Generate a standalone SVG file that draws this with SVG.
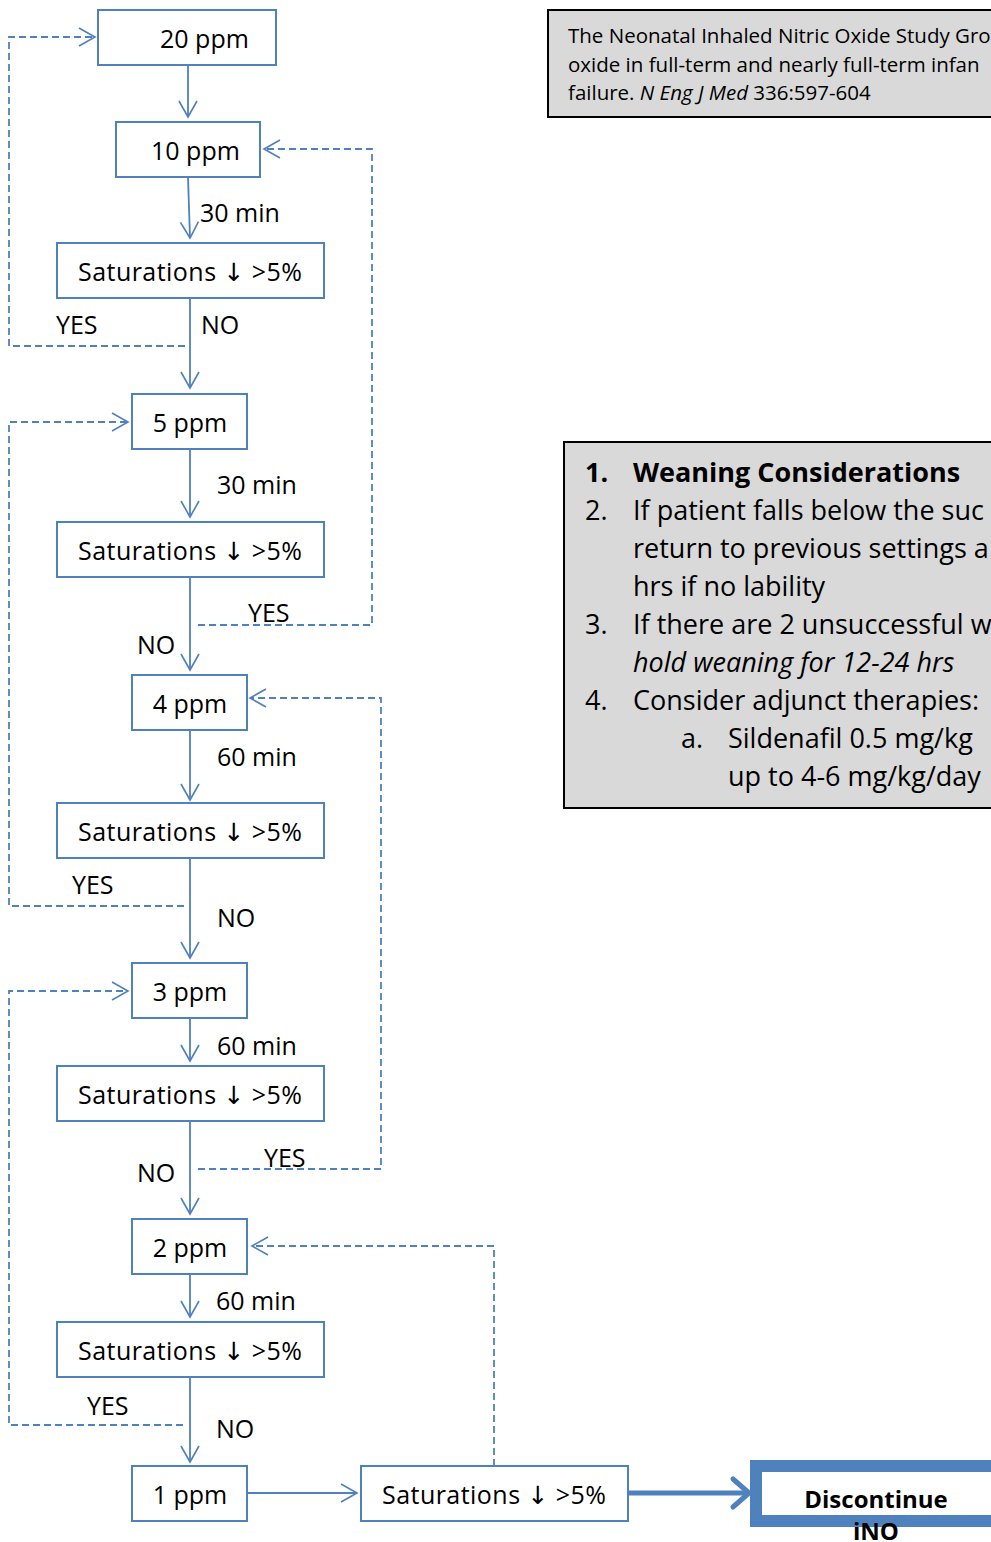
<svg xmlns="http://www.w3.org/2000/svg" width="991" height="1542" viewBox="0 0 991 1542">
<style>
  .box { fill: #FFFFFF; stroke: #4F81BD; stroke-width: 2; }
  .note { fill: #D9D9D9; stroke: #000000; stroke-width: 2; }
  .t { font-family: "Open Sans", "DejaVu Sans", sans-serif; font-size: 25px; fill: #000000; }
  .d { font-family: "Open Sans", "DejaVu Sans", sans-serif; font-size: 24px; fill: #000000; font-weight: bold; }
  .s { font-family: "Open Sans", "DejaVu Sans", sans-serif; font-size: 20.5px; fill: #000000; }
  .w { font-family: "Open Sans", "DejaVu Sans", sans-serif; font-size: 27px; fill: #000000; }
  .b { font-weight: bold; }
  .i { font-style: italic; }
  .solid { fill: none; stroke: #4F81BD; stroke-width: 1.8; }
  .dash { fill: none; stroke: #4F81BD; stroke-width: 1.8; stroke-dasharray: 7 4; }
</style>
<defs>
  <marker id="ah" viewBox="0 0 20 20" refX="18" refY="10" markerWidth="20" markerHeight="20" markerUnits="userSpaceOnUse" orient="auto">
    <path d="M2,1 L18,10 L2,19" fill="none" stroke="#4F81BD" stroke-width="1.6"/>
  </marker>
</defs>

<g id="connectors">
  <path class="solid" d="M188,65 V117" marker-end="url(#ah)"/>
  <path class="solid" d="M188,177 L190,238" marker-end="url(#ah)"/>
  <path class="solid" d="M190,298 V388" marker-end="url(#ah)"/>
  <path class="solid" d="M190,449 V517" marker-end="url(#ah)"/>
  <path class="solid" d="M190,577 V670" marker-end="url(#ah)"/>
  <path class="solid" d="M190,730 V800" marker-end="url(#ah)"/>
  <path class="solid" d="M190,858 V958" marker-end="url(#ah)"/>
  <path class="solid" d="M190,1018 V1061" marker-end="url(#ah)"/>
  <path class="solid" d="M190,1121 V1214" marker-end="url(#ah)"/>
  <path class="solid" d="M190,1274 V1317" marker-end="url(#ah)"/>
  <path class="solid" d="M190,1377 V1462" marker-end="url(#ah)"/>
  <path class="solid" d="M247,1493 H357" stroke-width="2.4" marker-end="url(#ah)"/>
  <path d="M628,1493 H748" fill="none" stroke="#4F81BD" stroke-width="5"/>
  <path d="M733,1479 L749,1493 L733,1507" fill="none" stroke="#4F81BD" stroke-width="5" stroke-linecap="round" stroke-linejoin="round"/>

  <path class="dash" d="M185,346 H9 V37 H95" marker-end="url(#ah)"/>
  <path class="dash" d="M198,625 H372 V149 H264" marker-end="url(#ah)"/>
  <path class="dash" d="M184,906 H9 V422 H128" marker-end="url(#ah)"/>
  <path class="dash" d="M198,1169 H381 V698 H250" marker-end="url(#ah)"/>
  <path class="dash" d="M183,1425 H9 V991 H128" marker-end="url(#ah)"/>
  <path class="dash" d="M494,1466 V1246 H252" marker-end="url(#ah)"/>

  <text class="t" x="200" y="222">30 min</text>
  <text class="t" x="56" y="334">YES</text>
  <text class="t" x="201" y="334">NO</text>
  <text class="t" x="217" y="494">30 min</text>
  <text class="t" x="248" y="622">YES</text>
  <text class="t" x="137" y="654">NO</text>
  <text class="t" x="217" y="766">60 min</text>
  <text class="t" x="72" y="894">YES</text>
  <text class="t" x="217" y="927">NO</text>
  <text class="t" x="217" y="1055">60 min</text>
  <text class="t" x="264" y="1167">YES</text>
  <text class="t" x="137" y="1182">NO</text>
  <text class="t" x="216" y="1310">60 min</text>
  <text class="t" x="87" y="1415">YES</text>
  <text class="t" x="216" y="1438">NO</text>
</g>

<g id="n20">
  <rect class="box" x="98" y="10" width="178" height="55"/>
  <text class="t" x="160" y="48">20 ppm</text>
</g>
<g id="n10">
  <rect class="box" x="116" y="122" width="144" height="55"/>
  <text class="t" x="151" y="160">10 ppm</text>
</g>
<g id="sat1">
  <rect class="box" x="57" y="243" width="267" height="55"/>
  <text class="t" x="78" y="281" textLength="224" lengthAdjust="spacing">Saturations ↓ &gt;5%</text>
</g>
<g id="n5">
  <rect class="box" x="132" y="394" width="115" height="55"/>
  <text class="t" x="190" y="432" text-anchor="middle">5 ppm</text>
</g>
<g id="sat2">
  <rect class="box" x="57" y="522" width="267" height="55"/>
  <text class="t" x="78" y="560" textLength="224" lengthAdjust="spacing">Saturations ↓ &gt;5%</text>
</g>
<g id="n4">
  <rect class="box" x="132" y="675" width="115" height="55"/>
  <text class="t" x="190" y="713" text-anchor="middle">4 ppm</text>
</g>
<g id="sat3">
  <rect class="box" x="57" y="803" width="267" height="55"/>
  <text class="t" x="78" y="841" textLength="224" lengthAdjust="spacing">Saturations ↓ &gt;5%</text>
</g>
<g id="n3">
  <rect class="box" x="132" y="963" width="115" height="55"/>
  <text class="t" x="190" y="1001" text-anchor="middle">3 ppm</text>
</g>
<g id="sat4">
  <rect class="box" x="57" y="1066" width="267" height="55"/>
  <text class="t" x="78" y="1104" textLength="224" lengthAdjust="spacing">Saturations ↓ &gt;5%</text>
</g>
<g id="n2">
  <rect class="box" x="132" y="1219" width="115" height="55"/>
  <text class="t" x="190" y="1257" text-anchor="middle">2 ppm</text>
</g>
<g id="sat5">
  <rect class="box" x="57" y="1322" width="267" height="55"/>
  <text class="t" x="78" y="1360" textLength="224" lengthAdjust="spacing">Saturations ↓ &gt;5%</text>
</g>
<g id="n1">
  <rect class="box" x="132" y="1466" width="115" height="55"/>
  <text class="t" x="190" y="1504" text-anchor="middle">1 ppm</text>
</g>
<g id="sat6">
  <rect class="box" x="361" y="1466" width="267" height="55"/>
  <text class="t" x="382" y="1504" textLength="224" lengthAdjust="spacing">Saturations ↓ &gt;5%</text>
</g>
<g id="discontinue">
  <rect x="756" y="1466" width="300" height="55" fill="#FFFFFF" stroke="#4F81BD" stroke-width="12"/>
  <text class="d" x="876" y="1508" text-anchor="middle">Discontinue</text>
  <text class="d" x="876" y="1540" text-anchor="middle">iNO</text>
</g>

<g id="reference">
  <rect class="note" x="548" y="10" width="460" height="107"/>
  <text class="s" x="568" y="43">The Neonatal Inhaled Nitric Oxide Study Gro</text>
  <text class="s" x="568" y="72">oxide in full-term and nearly full-term infan</text>
  <text class="s" x="568" y="100">failure. <tspan class="i">N Eng J Med</tspan> 336:597-604</text>
</g>

<g id="weaning">
  <rect class="note" x="564" y="442" width="440" height="366"/>
  <text class="w b" x="585" y="482">1.</text>
  <text class="w b" x="633" y="482">Weaning Considerations</text>
  <text class="w" x="585" y="520">2.</text>
  <text class="w" x="633" y="520">If patient falls below the suc</text>
  <text class="w" x="633" y="558">return to previous settings a</text>
  <text class="w" x="633" y="596">hrs if no lability</text>
  <text class="w" x="585" y="634">3.</text>
  <text class="w" x="633" y="634">If there are 2 unsuccessful w</text>
  <text class="w i" x="633" y="672">hold weaning for 12-24 hrs</text>
  <text class="w" x="585" y="710">4.</text>
  <text class="w" x="633" y="710">Consider adjunct therapies:</text>
  <text class="w" x="681" y="748">a.</text>
  <text class="w" x="728" y="748">Sildenafil 0.5 mg/kg</text>
  <text class="w" x="728" y="786">up to 4-6 mg/kg/day</text>
</g>
</svg>
